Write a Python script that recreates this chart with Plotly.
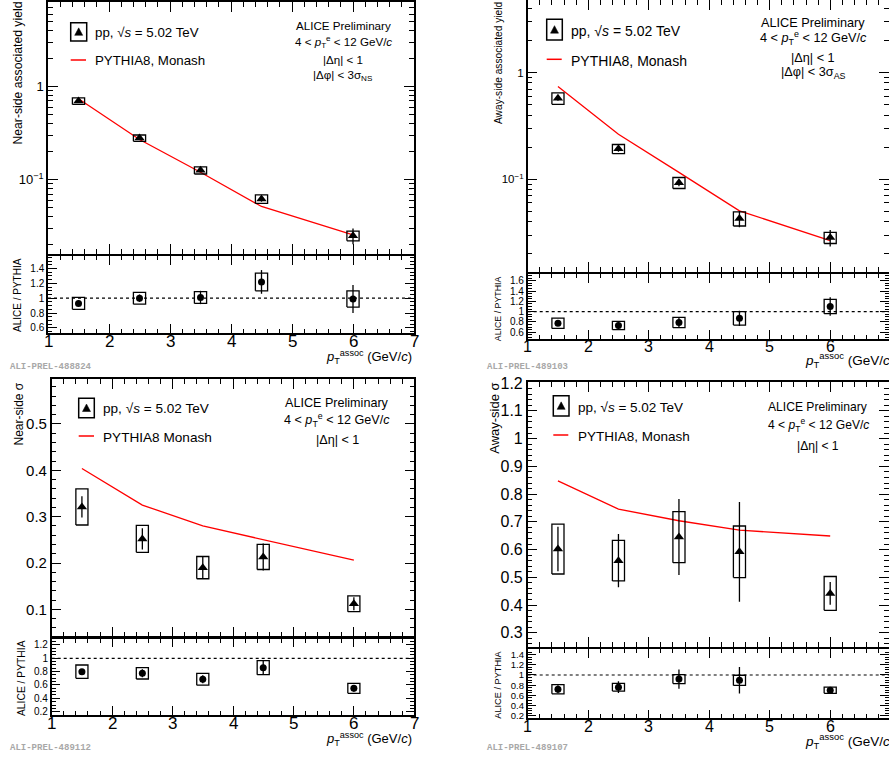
import plotly.graph_objects as go
import numpy as np

# ---------------- data ----------------
pt_assoc = [1.5, 2.5, 3.5, 4.5, 6.0]

# near-side associated yield
ns_yield = [0.70, 0.28, 0.126, 0.062, 0.0250]
ns_yield_stat = [0.02, 0.008, 0.005, 0.004, 0.0048]
ns_yield_sys = [0.057, 0.022, 0.011, 0.0065, 0.003]
pythia_ns_yield = [0.74, 0.27, 0.12, 0.0515, 0.0255]
ns_yield_ratio = [0.93, 1.00, 1.01, 1.22, 0.99]
ns_yield_ratio_stat = [0.04, 0.05, 0.09, 0.16, 0.19]
ns_yield_ratio_sys = [0.08, 0.08, 0.08, 0.12, 0.11]

# away-side associated yield
as_yield = [0.575, 0.193, 0.093, 0.043, 0.0284]
as_yield_stat = [0.03, 0.012, 0.007, 0.0075, 0.005]
as_yield_sys = [0.07, 0.019, 0.011, 0.0065, 0.0034]
pythia_as_yield = [0.74, 0.264, 0.116, 0.0506, 0.0266]
as_yield_ratio = [0.775, 0.73, 0.79, 0.87, 1.10]
as_yield_ratio_stat = [0.05, 0.07, 0.09, 0.15, 0.18]
as_yield_ratio_sys = [0.10, 0.08, 0.10, 0.13, 0.14]

# near-side sigma
ns_sigma = [0.321, 0.252, 0.190, 0.213, 0.112]
ns_sigma_stat = [0.023, 0.023, 0.023, 0.029, 0.014]
ns_sigma_sys = [0.039, 0.029, 0.024, 0.027, 0.017]
pythia_ns_sigma = [0.404, 0.325, 0.280, 0.250, 0.206]
ns_sigma_ratio = [0.80, 0.775, 0.685, 0.86, 0.55]
ns_sigma_ratio_stat = [0.04, 0.06, 0.06, 0.10, 0.05]
ns_sigma_ratio_sys = [0.10, 0.085, 0.088, 0.105, 0.075]

# away-side sigma
as_sigma = [0.602, 0.560, 0.645, 0.592, 0.442]
as_sigma_stat = [0.08, 0.096, 0.137, 0.18, 0.041]
as_sigma_sys = [0.09, 0.073, 0.092, 0.093, 0.061]
pythia_as_sigma = [0.848, 0.746, 0.704, 0.670, 0.649]
as_sigma_ratio = [0.72, 0.76, 0.92, 0.895, 0.70]
as_sigma_ratio_stat = [0.08, 0.115, 0.19, 0.26, 0.05]
as_sigma_ratio_sys = [0.089, 0.075, 0.089, 0.10, 0.06]

x_ticks = [1, 2, 3, 4, 5, 6, 7]

W, H = 889, 760
FONT = "Liberation Sans, Arial, Helvetica, sans-serif"
BOX_HW = 0.1


def xd(a, b):
    return [max(0, a / W), min(1, b / W)]


def yd(top, bot):
    return [max(0, 1 - bot / H), min(1, 1 - top / H)]


def box_path(xs, ys, es):
    px, py = [], []
    for x, y, e in zip(xs, ys, es):
        lo, hi = y - e, y + e
        px += [x - BOX_HW, x + BOX_HW, x + BOX_HW, x - BOX_HW, x - BOX_HW, None]
        py += [lo, lo, hi, hi, lo, None]
    return px, py


XMAX_R = 1 + (889 - 527.7) / 60.5

panels = [
    dict(
        data=(ns_yield, ns_yield_stat, ns_yield_sys, pythia_ns_yield),
        ratio=(ns_yield_ratio, ns_yield_ratio_stat, ns_yield_ratio_sys),
        xdom=(48, 414), main=(2, 254), rat=(256, 333),
        xrange=[1, 7], log=True,
        yrange=[np.log10(0.0159), np.log10(8.1)],
        rrange=[0.53, 1.57],
        ytickvals=[0.1, 1], yticktext=["10<sup>\u22121</sup>", "1"],
        yminor=[0.02, 0.03, 0.04, 0.05, 0.06, 0.07, 0.08, 0.09,
                0.2, 0.3, 0.4, 0.5, 0.6, 0.7, 0.8, 0.9, 2, 3, 4, 5, 6, 7, 8],
        ytickfs=13, rtickvals=[0.6, 0.8, 1, 1.2, 1.4], rminor=0.05, rtickfs=10,
        xtickfs=17, xlab_y=341.5,
        ytitle="Near-side associated yield", ytitle_x=17, ytitle_fs=12.2, ytitle_top=0,
        rtitle_x=18, rtitle_fs=10,
        leg=dict(box=(70.7, 22.7, 86.7, 41), t1=(92.7, 32.7), line=(70.7, 86, 60), t2=(92.7, 60),
                 fs=13.3, label2="PYTHIA8, Monash"),
        info=dict(x=343.3, fs=11.6, lines=[
            ("ALICE Preliminary", 25),
            ("4 < <i>p</i><sub>T</sub><sup>e</sup> < 12 GeV/<i>c</i>", 42),
            ("|\u0394\u03b7| < 1", 59.3),
            ("|\u0394\u03c6| < 3\u03c3<sub>NS</sub>", 76)]),
        xtitle=(414, 357, 13),
        wm=("ALI-PREL-488824", 8, 366.7),
    ),
    dict(
        data=(as_yield, as_yield_stat, as_yield_sys, pythia_as_yield),
        ratio=(as_yield_ratio, as_yield_ratio_stat, as_yield_ratio_sys),
        xdom=(527.7, 889), main=(0, 271.7), rat=(274, 339),
        xrange=[1, XMAX_R], log=True,
        yrange=[np.log10(0.0136), np.log10(4.8)],
        rrange=[0.47, 1.73],
        ytickvals=[0.1, 1], yticktext=["10<sup>\u22121</sup>", "1"],
        yminor=[0.02, 0.03, 0.04, 0.05, 0.06, 0.07, 0.08, 0.09,
                0.2, 0.3, 0.4, 0.5, 0.6, 0.7, 0.8, 0.9, 2, 3, 4],
        ytickfs=11.5, rtickvals=[0.6, 0.8, 1, 1.2, 1.4, 1.6], rminor=0.05, rtickfs=10,
        xtickfs=16, xlab_y=346.5,
        ytitle="Away-side associated yield", ytitle_x=498, ytitle_fs=10.2, ytitle_top=0,
        rtitle_x=497.7, rtitle_fs=8.8,
        leg=dict(box=(546.7, 19.3, 562.3, 40), t1=(569, 31), line=(546.7, 561.7, 59.3), t2=(569, 61),
                 fs=14, label2="PYTHIA8, Monash"),
        info=dict(x=813.3, fs=12.7, lines=[
            ("ALICE Preliminary", 22.7),
            ("4 < <i>p</i><sub>T</sub><sup>e</sup> < 12 GeV/<i>c</i>", 38),
            ("|\u0394\u03b7| < 1", 58.3),
            ("|\u0394\u03c6| < 3\u03c3<sub>AS</sub>", 73)]),
        xtitle=(896, 360, 13.5),
        wm=("ALI-PREL-489103", 485, 366.7),
    ),
    dict(
        data=(ns_sigma, ns_sigma_stat, ns_sigma_sys, pythia_ns_sigma),
        ratio=(ns_sigma_ratio, ns_sigma_ratio_stat, ns_sigma_ratio_sys),
        xdom=(51.7, 414.3), main=(379, 636.7), rat=(638.3, 715),
        xrange=[1, 7], log=False,
        yrange=[0.041, 0.597],
        rrange=[0.15, 1.3],
        ytickvals=[0.1, 0.2, 0.3, 0.4, 0.5], yticktext=["0.1", "0.2", "0.3", "0.4", "0.5"],
        yminor=0.02,
        ytickfs=15, rtickvals=[0.2, 0.4, 0.6, 0.8, 1, 1.2], rminor=0.05, rtickfs=10,
        xtickfs=17, xlab_y=723.3,
        ytitle="Near-side \u03c3", ytitle_x=19, ytitle_fs=12, ytitle_top=381,
        rtitle_x=21.7, rtitle_fs=10.3,
        leg=dict(box=(78.7, 398.3, 94.3, 417.7), t1=(101, 409), line=(78.7, 94, 436), t2=(101, 437.7),
                 fs=13.6, label2="PYTHIA8 Monash"),
        info=dict(x=337.3, fs=12.6, lines=[
            ("ALICE Preliminary", 402.7),
            ("4 < <i>p</i><sub>T</sub><sup>e</sup> < 12 GeV/<i>c</i>", 420),
            ("|\u0394\u03b7| < 1", 440)]),
        xtitle=(414, 739, 13),
        wm=("ALI-PREL-489112", 8, 748),
    ),
    dict(
        data=(as_sigma, as_sigma_stat, as_sigma_sys, pythia_as_sigma),
        ratio=(as_sigma_ratio, as_sigma_ratio_stat, as_sigma_ratio_sys),
        xdom=(527.7, 889), main=(382.3, 646.7), rat=(649, 718.3),
        xrange=[1, XMAX_R], log=False,
        yrange=[0.25, 1.203],
        rrange=[0.15, 1.51],
        ytickvals=[0.3, 0.4, 0.5, 0.6, 0.7, 0.8, 0.9, 1.0, 1.1, 1.2],
        yticktext=["0.3", "0.4", "0.5", "0.6", "0.7", "0.8", "0.9", "1", "1.1", "1.2"],
        yminor=0.02,
        ytickfs=16, rtickvals=[0.2, 0.4, 0.6, 0.8, 1, 1.2, 1.4], rminor=0.05, rtickfs=9.5,
        xtickfs=16, xlab_y=726,
        ytitle="Away-side \u03c3", ytitle_x=494.3, ytitle_fs=13, ytitle_top=381,
        rtitle_x=497.7, rtitle_fs=9.2,
        leg=dict(box=(553.3, 395.7, 569, 416), t1=(575.7, 407.3), line=(553.3, 568.3, 435), t2=(575.7, 436),
                 fs=13.5, label2="PYTHIA8, Monash"),
        info=dict(x=818.3, fs=12.1, lines=[
            ("ALICE Preliminary", 407.3),
            ("4 < <i>p</i><sub>T</sub><sup>e</sup> < 12 GeV/<i>c</i>", 425),
            ("|\u0394\u03b7| < 1", 445.7)]),
        xtitle=(896, 741, 13.5),
        wm=("ALI-PREL-489107", 485, 748),
    ),
]

fig = go.Figure()
layout = dict(template="none", width=W, height=H, margin=dict(l=0, r=0, t=0, b=0, pad=0, autoexpand=False),
              paper_bgcolor="white", plot_bgcolor="white", showlegend=False,
              font=dict(family=FONT, color="black"))
annotations = []
shapes = []


def px_x(v):
    return v / W


def px_y(v):
    return 1 - v / H


for i, p in enumerate(panels):
    nm = 2 * i + 1
    nr = 2 * i + 2
    xm, ym = (f"x{nm}" if nm > 1 else "x"), (f"y{nm}" if nm > 1 else "y")
    xr, yr = f"x{nr}", f"y{nr}"
    kxm = "xaxis" if nm == 1 else f"xaxis{nm}"
    kym = "yaxis" if nm == 1 else f"yaxis{nm}"
    kxr, kyr = f"xaxis{nr}", f"yaxis{nr}"

    common = dict(showline=True, linecolor="black", linewidth=1.5, mirror="allticks",
                  ticks="inside", tickcolor="black", showgrid=False, zeroline=False,
                  automargin=False)
    xdom = xd(*p["xdom"])
    xminor = dict(dtick=0.2, tick0=1, ticks="inside", ticklen=5, tickcolor="black", tickwidth=1, showgrid=False)
    layout[kxm] = dict(common, domain=xdom, range=p["xrange"], anchor=ym,
                       tickmode="array", tickvals=x_ticks, showticklabels=False, ticklen=10, tickwidth=1,
                       minor=xminor)
    layout[kxr] = dict(common, domain=xdom, range=p["xrange"], anchor=yr,
                       tickmode="array", tickvals=x_ticks, showticklabels=False, ticklen=9, tickwidth=1,
                       minor=dict(xminor, ticklen=4.5))
    if p["log"]:
        minor_y = dict(tickmode="array", tickvals=p["yminor"], ticks="inside", ticklen=5,
                       tickcolor="black", tickwidth=1, showgrid=False)
        ytype = "log"
    else:
        minor_y = dict(dtick=p["yminor"], tick0=0, ticks="inside", ticklen=5, tickcolor="black",
                       tickwidth=1, showgrid=False)
        ytype = "linear"
    layout[kym] = dict(common, type=ytype, domain=yd(*p["main"]), range=p["yrange"], anchor=xm,
                       tickmode="array", tickvals=p["ytickvals"], ticktext=p["yticktext"],
                       ticklen=10, tickwidth=1, tickfont=dict(size=p["ytickfs"], family=FONT),
                       minor=minor_y)
    layout[kyr] = dict(common, domain=yd(*p["rat"]), range=p["rrange"], anchor=xr,
                       tickmode="array", tickvals=p["rtickvals"],
                       ticktext=[("%g" % v) for v in p["rtickvals"]],
                       ticklen=9, tickwidth=1, tickfont=dict(size=p["rtickfs"], family=FONT),
                       minor=dict(dtick=p["rminor"], tick0=0, ticks="inside", ticklen=4.5,
                                  tickcolor="black", tickwidth=1, showgrid=False))

    val, stat, sys, pyth = p["data"]
    rv, rstat, rsys = p["ratio"]

    # PYTHIA curve
    fig.add_trace(go.Scatter(x=pt_assoc, y=pyth, mode="lines", line=dict(color="#ff0000", width=1.3),
                             xaxis=xm, yaxis=ym, hoverinfo="skip"))
    # systematic boxes
    bx, by = box_path(pt_assoc, val, sys)
    fig.add_trace(go.Scatter(x=bx, y=by, mode="lines", line=dict(color="black", width=1.3),
                             xaxis=xm, yaxis=ym, hoverinfo="skip"))
    # data points with stat errors
    fig.add_trace(go.Scatter(x=pt_assoc, y=val, mode="markers",
                             marker=dict(symbol="triangle-up", size=9, color="black"),
                             error_y=dict(type="data", array=stat, color="black", thickness=1.3, width=0),
                             xaxis=xm, yaxis=ym))
    # ratio
    shapes.append(dict(type="line", xref=f"{xr} domain", yref=yr, x0=0, x1=1, y0=1, y1=1,
                       line=dict(color="black", width=1.2, dash="dot")))
    rbx, rby = box_path(pt_assoc, rv, rsys)
    fig.add_trace(go.Scatter(x=rbx, y=rby, mode="lines", line=dict(color="black", width=1.3),
                             xaxis=xr, yaxis=yr, hoverinfo="skip"))
    fig.add_trace(go.Scatter(x=pt_assoc, y=rv, mode="markers",
                             marker=dict(symbol="circle", size=7, color="black"),
                             error_y=dict(type="data", array=rstat, color="black", thickness=1.3, width=0),
                             xaxis=xr, yaxis=yr))

    # x tick labels (below the ratio pad)
    for t in x_ticks:
        if t <= p["xrange"][1] + 1e-9:
            annotations.append(dict(text=str(t), xref=xr, yref="paper", x=t, y=px_y(p["xlab_y"]),
                                    xanchor="center", yanchor="middle", showarrow=False,
                                    font=dict(size=p["xtickfs"], family=FONT)))

    # y titles
    annotations.append(dict(text=p["ytitle"], xref="paper", yref="paper",
                            x=px_x(p["ytitle_x"]), y=px_y(p["ytitle_top"]),
                            xanchor="center", yanchor="top", textangle=-90, showarrow=False,
                            font=dict(size=p["ytitle_fs"], family=FONT)))
    annotations.append(dict(text="ALICE / PYTHIA", xref="paper", yref="paper",
                            x=px_x(p["rtitle_x"]), y=px_y(p["rat"][0]),
                            xanchor="center", yanchor="top", textangle=-90, showarrow=False,
                            font=dict(size=p["rtitle_fs"], family=FONT)))
    # x title
    xt = p["xtitle"]
    annotations.append(dict(text="<i>p</i><sub>T</sub><sup>assoc</sup> (GeV/<i>c</i>)",
                            xref="paper", yref="paper", x=px_x(xt[0]), y=px_y(xt[1]),
                            xanchor="right", yanchor="middle", showarrow=False,
                            font=dict(size=xt[2], family=FONT)))
    # info text
    inf = p["info"]
    for txt, yy in inf["lines"]:
        annotations.append(dict(text=txt, xref="paper", yref="paper", x=px_x(inf["x"]), y=px_y(yy),
                                xanchor="center", yanchor="middle", showarrow=False,
                                font=dict(size=inf["fs"], family=FONT)))
    # legend
    lg = p["leg"]
    b = lg["box"]
    shapes.append(dict(type="rect", xref="paper", yref="paper",
                       x0=px_x(b[0]), x1=px_x(b[2]), y0=px_y(b[3]), y1=px_y(b[1]),
                       line=dict(color="black", width=1.5)))
    cx, cy = (b[0] + b[2]) / 2, (b[1] + b[3]) / 2
    tri = f"M {px_x(cx - 4)} {px_y(cy + 3.5)} L {px_x(cx + 4)} {px_y(cy + 3.5)} L {px_x(cx)} {px_y(cy - 4)} Z"
    shapes.append(dict(type="path", xref="paper", yref="paper", path=tri,
                       fillcolor="black", line=dict(color="black", width=0.5)))
    annotations.append(dict(text="pp, \u221a<i>s</i> = 5.02 TeV", xref="paper", yref="paper",
                            x=px_x(lg["t1"][0]), y=px_y(lg["t1"][1]), xanchor="left", yanchor="middle",
                            showarrow=False, font=dict(size=lg["fs"], family=FONT)))
    ln = lg["line"]
    shapes.append(dict(type="line", xref="paper", yref="paper", x0=px_x(ln[0]), x1=px_x(ln[1]),
                       y0=px_y(ln[2]), y1=px_y(ln[2]), line=dict(color="#ff0000", width=1.5)))
    annotations.append(dict(text=lg["label2"], xref="paper", yref="paper",
                            x=px_x(lg["t2"][0]), y=px_y(lg["t2"][1]), xanchor="left", yanchor="middle",
                            showarrow=False, font=dict(size=lg["fs"], family=FONT)))
    # watermark
    wm = p["wm"]
    annotations.append(dict(text="<b>" + wm[0] + "</b>", xref="paper", yref="paper",
                            x=px_x(wm[1]), y=px_y(wm[2]), xanchor="left", yanchor="middle",
                            showarrow=False, font=dict(size=9, family="Liberation Mono, monospace",
                                                       color="#a8a8a8")))

layout["annotations"] = annotations
layout["shapes"] = shapes
fig.update_layout(**layout)
fig.write_html("out.html")
